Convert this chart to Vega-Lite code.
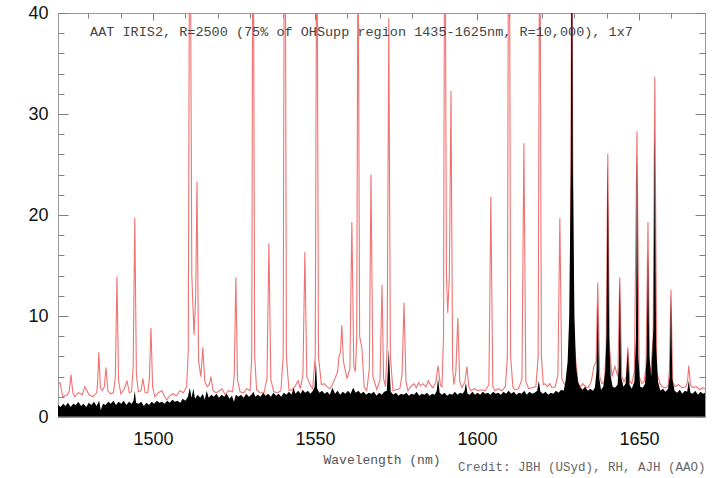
{
"$schema": "https://vega.github.io/schema/vega-lite/v6.json",
"width": 647, "height": 404,
"autosize": "none",
"padding": {"left": 58, "top": 13, "right": 11, "bottom": 61},
"background": "white",
"config": {"view": {"stroke": "#999999", "strokeWidth": 1}, "axis": {"grid": false, "domain": false, "tickColor": "#808080", "tickWidth": 1, "labelFont": "Liberation Sans", "labelFontSize": 18, "labelColor": "#111111"}},
"title": {"text": "Credit: JBH (USyd), RH, AJH (AAO)", "orient": "bottom", "anchor": "end", "font": "Liberation Mono", "fontSize": 12.5, "fontWeight": "normal", "color": "#666666", "offset": -5},
"datasets": {
"red": [
{"w":1470.7,"f":3.3},{"w":1471.3,"f":3.4},{"w":1472.2,"f":2.0},{"w":1473.6,"f":2.2},{"w":1474.2,"f":2.6},{"w":1474.7,"f":4.2},{"w":1475.3,"f":2.4},{"w":1475.9,"f":2.0},{"w":1477.0,"f":2.4},{"w":1478.2,"f":2.2},{"w":1479.0,"f":3.0},{"w":1480.3,"f":2.2},{"w":1481.5,"f":2.0},{"w":1482.6,"f":2.4},{"w":1482.9,"f":3.2},{"w":1483.3,"f":6.4},{"w":1483.8,"f":2.9},{"w":1484.4,"f":2.6},{"w":1485.0,"f":3.0},{"w":1485.5,"f":4.9},{"w":1486.1,"f":2.6},{"w":1486.9,"f":2.3},{"w":1487.8,"f":2.4},{"w":1488.4,"f":4.0},{"w":1488.9,"f":13.9},{"w":1489.4,"f":3.6},{"w":1490.1,"f":2.3},{"w":1491.2,"f":2.8},{"w":1492.0,"f":3.6},{"w":1492.7,"f":2.4},{"w":1493.4,"f":2.5},{"w":1493.9,"f":5.0},{"w":1494.4,"f":19.7},{"w":1494.9,"f":4.2},{"w":1495.5,"f":2.5},{"w":1496.3,"f":2.6},{"w":1496.9,"f":3.8},{"w":1497.6,"f":2.4},{"w":1498.4,"f":2.4},{"w":1498.9,"f":3.8},{"w":1499.4,"f":8.8},{"w":1499.9,"f":3.0},{"w":1500.6,"f":2.0},{"w":1501.6,"f":2.4},{"w":1502.8,"f":2.6},{"w":1503.6,"f":2.0},{"w":1504.3,"f":1.7},{"w":1505.2,"f":2.1},{"w":1506.2,"f":2.3},{"w":1507.2,"f":2.1},{"w":1508.3,"f":2.6},{"w":1509.4,"f":2.4},{"w":1510.4,"f":3.0},{"w":1510.9,"f":6.5},{"w":1511.4,"f":60},{"w":1512.0,"f":14},{"w":1512.7,"f":8.1},{"w":1513.2,"f":12},{"w":1513.6,"f":23.3},{"w":1514.1,"f":5.5},{"w":1514.8,"f":4.0},{"w":1515.4,"f":6.9},{"w":1516.0,"f":3.5},{"w":1516.8,"f":3.0},{"w":1517.4,"f":3.2},{"w":1517.9,"f":4.0},{"w":1518.6,"f":2.6},{"w":1519.5,"f":2.4},{"w":1520.5,"f":2.6},{"w":1521.3,"f":2.8},{"w":1522.3,"f":2.2},{"w":1523.3,"f":2.6},{"w":1524.6,"f":2.5},{"w":1525.1,"f":4.2},{"w":1525.6,"f":13.8},{"w":1526.1,"f":3.7},{"w":1526.9,"f":2.5},{"w":1528.0,"f":2.4},{"w":1529.0,"f":2.8},{"w":1530.0,"f":2.6},{"w":1530.5,"f":6.0},{"w":1530.9,"f":60},{"w":1531.4,"f":6.0},{"w":1532.0,"f":2.7},{"w":1533.0,"f":2.4},{"w":1534.3,"f":2.4},{"w":1535.2,"f":3.8},{"w":1535.8,"f":17.2},{"w":1536.4,"f":3.7},{"w":1537.3,"f":2.5},{"w":1538.5,"f":2.4},{"w":1539.5,"f":2.6},{"w":1540.2,"f":6.0},{"w":1540.7,"f":70},{"w":1541.2,"f":6.0},{"w":1542.0,"f":2.6},{"w":1542.9,"f":2.7},{"w":1543.8,"f":3.0},{"w":1544.8,"f":3.6},{"w":1545.5,"f":2.8},{"w":1546.3,"f":4.2},{"w":1546.9,"f":16.3},{"w":1547.5,"f":4.0},{"w":1548.5,"f":3.2},{"w":1549.3,"f":2.8},{"w":1550.1,"f":6.0},{"w":1550.6,"f":55},{"w":1551.1,"f":6.0},{"w":1552.0,"f":3.2},{"w":1552.8,"f":3.3},{"w":1553.7,"f":3.0},{"w":1554.6,"f":2.8},{"w":1555.4,"f":3.2},{"w":1556.2,"f":3.8},{"w":1557.0,"f":4.5},{"w":1557.4,"f":5.9},{"w":1557.9,"f":6.5},{"w":1558.3,"f":9.1},{"w":1558.8,"f":5.5},{"w":1559.9,"f":3.8},{"w":1560.8,"f":4.8},{"w":1561.4,"f":19.3},{"w":1562.0,"f":5.0},{"w":1562.5,"f":4.5},{"w":1562.9,"f":8},{"w":1563.3,"f":50},{"w":1563.8,"f":8},{"w":1564.5,"f":6.8},{"w":1565.2,"f":3.0},{"w":1566.0,"f":2.6},{"w":1566.8,"f":4.8},{"w":1567.3,"f":24.0},{"w":1567.9,"f":4.0},{"w":1569.1,"f":2.7},{"w":1570.1,"f":3.7},{"w":1570.7,"f":13.1},{"w":1571.2,"f":3.8},{"w":1571.8,"f":3.0},{"w":1572.3,"f":7.0},{"w":1572.8,"f":39.5},{"w":1573.3,"f":6.0},{"w":1574.1,"f":2.6},{"w":1575.0,"f":2.7},{"w":1576.2,"f":2.8},{"w":1576.9,"f":4.2},{"w":1577.5,"f":11.3},{"w":1578.1,"f":3.5},{"w":1578.7,"f":2.6},{"w":1579.6,"f":3.0},{"w":1580.6,"f":3.3},{"w":1581.3,"f":2.9},{"w":1582.0,"f":3.4},{"w":1582.6,"f":3.1},{"w":1583.3,"f":3.3},{"w":1584.3,"f":3.0},{"w":1585.0,"f":3.6},{"w":1585.6,"f":3.2},{"w":1586.4,"f":2.9},{"w":1587.3,"f":3.4},{"w":1588.0,"f":5.1},{"w":1588.7,"f":3.2},{"w":1589.2,"f":3.0},{"w":1589.7,"f":8.0},{"w":1590.1,"f":60},{"w":1590.6,"f":14},{"w":1591.0,"f":10.3},{"w":1591.5,"f":14},{"w":1592.0,"f":32.3},{"w":1592.5,"f":5.0},{"w":1592.9,"f":3.2},{"w":1593.5,"f":4.5},{"w":1594.1,"f":9.8},{"w":1594.7,"f":3.5},{"w":1595.4,"f":2.9},{"w":1596.3,"f":3.5},{"w":1596.9,"f":5.0},{"w":1597.5,"f":3.0},{"w":1598.1,"f":2.6},{"w":1599.2,"f":2.8},{"w":1600.3,"f":2.6},{"w":1601.4,"f":2.7},{"w":1602.5,"f":2.6},{"w":1603.7,"f":3.2},{"w":1604.3,"f":21.8},{"w":1604.9,"f":3.0},{"w":1605.6,"f":2.6},{"w":1606.6,"f":2.8},{"w":1607.7,"f":2.6},{"w":1608.8,"f":3.0},{"w":1609.4,"f":6.0},{"w":1609.9,"f":70},{"w":1610.4,"f":6.0},{"w":1611.1,"f":3.0},{"w":1611.7,"f":2.7},{"w":1612.8,"f":2.8},{"w":1613.9,"f":3.7},{"w":1614.5,"f":27.1},{"w":1615.1,"f":3.5},{"w":1616.0,"f":2.8},{"w":1617.0,"f":2.9},{"w":1618.2,"f":3.0},{"w":1618.9,"f":6.0},{"w":1619.4,"f":55},{"w":1619.9,"f":6.0},{"w":1620.5,"f":3.2},{"w":1621.0,"f":3.3},{"w":1621.8,"f":3.0},{"w":1622.5,"f":3.3},{"w":1623.1,"f":2.9},{"w":1624.2,"f":3.0},{"w":1625.0,"f":4.2},{"w":1625.6,"f":19.7},{"w":1626.2,"f":3.8},{"w":1626.9,"f":3.3},{"w":1628.1,"f":3.0},{"w":1628.8,"f":8},{"w":1629.3,"f":50},{"w":1629.8,"f":8},{"w":1631.2,"f":3.3},{"w":1632.0,"f":3.0},{"w":1632.7,"f":3.3},{"w":1633.5,"f":3.0},{"w":1634.3,"f":2.9},{"w":1635.3,"f":3.5},{"w":1636.1,"f":5.0},{"w":1636.8,"f":5.5},{"w":1637.3,"f":13.3},{"w":1637.9,"f":4.0},{"w":1638.6,"f":3.3},{"w":1639.4,"f":3.5},{"w":1639.9,"f":7},{"w":1640.4,"f":26.1},{"w":1640.9,"f":7},{"w":1641.7,"f":4.0},{"w":1642.6,"f":5.0},{"w":1643.5,"f":4.0},{"w":1644.1,"f":13.8},{"w":1644.7,"f":4.0},{"w":1645.4,"f":3.5},{"w":1646.1,"f":4.0},{"w":1646.6,"f":6.9},{"w":1647.2,"f":3.5},{"w":1647.8,"f":3.3},{"w":1648.6,"f":4.5},{"w":1649.4,"f":28.3},{"w":1650.1,"f":4.0},{"w":1650.9,"f":3.3},{"w":1651.6,"f":3.5},{"w":1652.2,"f":5.0},{"w":1652.8,"f":19.3},{"w":1653.3,"f":5.0},{"w":1653.7,"f":4.5},{"w":1654.4,"f":8.0},{"w":1654.9,"f":33.7},{"w":1655.5,"f":4.5},{"w":1656.5,"f":3.3},{"w":1657.2,"f":3.0},{"w":1658.0,"f":2.9},{"w":1659.0,"f":3.0},{"w":1659.4,"f":4.5},{"w":1659.9,"f":12.6},{"w":1660.4,"f":3.5},{"w":1661.1,"f":3.0},{"w":1662.2,"f":3.2},{"w":1663.3,"f":2.9},{"w":1664.5,"f":3.0},{"w":1665.0,"f":3.5},{"w":1665.4,"f":5.1},{"w":1665.9,"f":3.2},{"w":1666.7,"f":2.9},{"w":1667.7,"f":3.0},{"w":1668.8,"f":2.7},{"w":1669.6,"f":2.9},{"w":1670.4,"f":2.8}
],
"black": [
{"w":1470.7,"f":1.2},{"w":1471.5,"f":1.0},{"w":1472.3,"f":1.3},{"w":1473.0,"f":1.1},{"w":1473.8,"f":1.4},{"w":1474.6,"f":1.0},{"w":1475.4,"f":1.3},{"w":1476.2,"f":1.2},{"w":1477.0,"f":1.5},{"w":1477.8,"f":1.1},{"w":1478.6,"f":1.3},{"w":1479.4,"f":1.0},{"w":1480.2,"f":1.4},{"w":1481.0,"f":1.2},{"w":1481.8,"f":1.5},{"w":1482.6,"f":1.1},{"w":1483.4,"f":1.6},{"w":1483.9,"f":0.7},{"w":1484.6,"f":1.3},{"w":1485.4,"f":1.2},{"w":1486.2,"f":1.5},{"w":1487.0,"f":1.3},{"w":1487.8,"f":1.6},{"w":1488.6,"f":1.2},{"w":1489.4,"f":1.5},{"w":1490.2,"f":1.3},{"w":1491.0,"f":1.6},{"w":1491.8,"f":1.2},{"w":1492.6,"f":1.5},{"w":1493.4,"f":1.3},{"w":1494.0,"f":1.6},{"w":1494.4,"f":2.6},{"w":1494.8,"f":1.4},{"w":1495.6,"f":1.3},{"w":1496.4,"f":1.5},{"w":1497.2,"f":1.1},{"w":1498.0,"f":1.4},{"w":1498.8,"f":1.2},{"w":1499.6,"f":1.5},{"w":1500.4,"f":1.3},{"w":1501.2,"f":1.6},{"w":1502.0,"f":1.4},{"w":1502.8,"f":1.5},{"w":1503.6,"f":1.3},{"w":1504.4,"f":1.6},{"w":1505.2,"f":1.4},{"w":1506.0,"f":1.7},{"w":1506.8,"f":1.5},{"w":1507.6,"f":1.6},{"w":1508.4,"f":1.4},{"w":1509.2,"f":1.8},{"w":1510.0,"f":1.6},{"w":1510.8,"f":2.0},{"w":1511.4,"f":2.9},{"w":1511.9,"f":1.9},{"w":1512.5,"f":2.8},{"w":1513.0,"f":1.8},{"w":1513.8,"f":2.2},{"w":1514.6,"f":1.9},{"w":1515.4,"f":2.3},{"w":1516.0,"f":1.7},{"w":1516.6,"f":2.6},{"w":1517.2,"f":1.9},{"w":1518.0,"f":2.2},{"w":1518.8,"f":2.0},{"w":1519.6,"f":2.3},{"w":1520.4,"f":1.9},{"w":1521.2,"f":2.2},{"w":1522.0,"f":2.0},{"w":1522.8,"f":2.3},{"w":1523.6,"f":1.8},{"w":1524.4,"f":2.1},{"w":1525.0,"f":1.5},{"w":1525.6,"f":2.2},{"w":1526.4,"f":2.0},{"w":1527.2,"f":2.2},{"w":1528.0,"f":1.9},{"w":1528.8,"f":2.3},{"w":1529.6,"f":2.0},{"w":1530.4,"f":2.2},{"w":1531.0,"f":2.5},{"w":1531.6,"f":2.0},{"w":1532.4,"f":2.2},{"w":1533.2,"f":2.0},{"w":1534.0,"f":2.4},{"w":1534.8,"f":2.1},{"w":1535.6,"f":2.3},{"w":1536.4,"f":2.0},{"w":1537.2,"f":2.4},{"w":1538.0,"f":2.1},{"w":1538.8,"f":2.3},{"w":1539.6,"f":2.0},{"w":1540.4,"f":2.4},{"w":1541.2,"f":2.2},{"w":1542.0,"f":2.5},{"w":1542.8,"f":2.2},{"w":1543.4,"f":2.9},{"w":1544.0,"f":2.3},{"w":1544.8,"f":2.6},{"w":1545.6,"f":2.3},{"w":1546.2,"f":2.7},{"w":1547.0,"f":2.4},{"w":1547.8,"f":2.6},{"w":1548.6,"f":2.3},{"w":1549.4,"f":2.6},{"w":1549.9,"f":3.0},{"w":1550.3,"f":5.6},{"w":1550.7,"f":2.8},{"w":1551.4,"f":2.4},{"w":1552.2,"f":2.6},{"w":1553.0,"f":2.3},{"w":1553.8,"f":2.5},{"w":1554.6,"f":2.2},{"w":1555.4,"f":2.9},{"w":1556.2,"f":2.3},{"w":1557.0,"f":2.6},{"w":1557.8,"f":2.2},{"w":1558.6,"f":2.5},{"w":1559.4,"f":2.3},{"w":1560.2,"f":2.6},{"w":1561.0,"f":2.3},{"w":1561.8,"f":2.9},{"w":1562.6,"f":2.4},{"w":1563.4,"f":2.6},{"w":1564.2,"f":2.3},{"w":1565.0,"f":2.5},{"w":1565.8,"f":2.2},{"w":1566.6,"f":2.4},{"w":1567.4,"f":2.3},{"w":1568.2,"f":2.5},{"w":1569.0,"f":2.1},{"w":1569.8,"f":2.4},{"w":1570.6,"f":2.2},{"w":1571.4,"f":2.5},{"w":1572.2,"f":2.6},{"w":1572.8,"f":6.7},{"w":1573.4,"f":2.5},{"w":1574.2,"f":2.2},{"w":1575.0,"f":2.4},{"w":1575.8,"f":2.1},{"w":1576.6,"f":2.3},{"w":1577.4,"f":2.2},{"w":1578.2,"f":2.4},{"w":1579.0,"f":2.1},{"w":1579.8,"f":2.3},{"w":1580.6,"f":2.2},{"w":1581.4,"f":2.5},{"w":1582.2,"f":2.1},{"w":1583.0,"f":2.3},{"w":1583.8,"f":2.2},{"w":1584.6,"f":2.4},{"w":1585.4,"f":2.1},{"w":1586.2,"f":2.3},{"w":1587.0,"f":2.2},{"w":1587.6,"f":2.6},{"w":1588.0,"f":3.8},{"w":1588.5,"f":2.4},{"w":1589.2,"f":2.2},{"w":1590.0,"f":2.4},{"w":1590.8,"f":2.1},{"w":1591.6,"f":2.3},{"w":1592.4,"f":2.2},{"w":1593.2,"f":2.5},{"w":1594.0,"f":2.2},{"w":1594.8,"f":2.4},{"w":1595.6,"f":2.3},{"w":1596.2,"f":2.6},{"w":1596.6,"f":3.4},{"w":1597.1,"f":2.3},{"w":1597.8,"f":2.2},{"w":1598.6,"f":2.5},{"w":1599.4,"f":2.2},{"w":1600.2,"f":2.4},{"w":1601.0,"f":2.2},{"w":1601.8,"f":2.5},{"w":1602.6,"f":2.3},{"w":1603.4,"f":2.4},{"w":1604.2,"f":2.2},{"w":1605.0,"f":2.5},{"w":1605.8,"f":2.3},{"w":1606.6,"f":2.4},{"w":1607.4,"f":2.2},{"w":1608.2,"f":2.5},{"w":1609.0,"f":2.3},{"w":1609.8,"f":2.6},{"w":1610.6,"f":2.3},{"w":1611.4,"f":2.5},{"w":1612.2,"f":2.2},{"w":1613.0,"f":2.4},{"w":1613.8,"f":2.3},{"w":1614.6,"f":2.6},{"w":1615.4,"f":2.2},{"w":1616.2,"f":2.5},{"w":1617.0,"f":2.3},{"w":1617.8,"f":2.4},{"w":1618.6,"f":2.6},{"w":1619.1,"f":3.6},{"w":1619.6,"f":2.5},{"w":1620.4,"f":2.3},{"w":1621.2,"f":2.5},{"w":1622.0,"f":2.2},{"w":1622.8,"f":2.4},{"w":1623.6,"f":2.3},{"w":1624.4,"f":2.6},{"w":1625.2,"f":2.4},{"w":1626.0,"f":2.7},{"w":1626.8,"f":2.6},{"w":1627.4,"f":3.7},{"w":1628.0,"f":5.5},{"w":1628.5,"f":10},{"w":1629.0,"f":25},{"w":1629.3,"f":60},{"w":1629.6,"f":25},{"w":1630.1,"f":10},{"w":1630.6,"f":5.0},{"w":1631.2,"f":3.5},{"w":1631.8,"f":3.0},{"w":1632.6,"f":2.7},{"w":1633.4,"f":3.0},{"w":1634.2,"f":2.6},{"w":1635.0,"f":2.8},{"w":1635.8,"f":2.6},{"w":1636.4,"f":2.9},{"w":1636.9,"f":4.5},{"w":1637.3,"f":11.3},{"w":1637.7,"f":4.0},{"w":1638.3,"f":2.7},{"w":1639.0,"f":3.0},{"w":1639.6,"f":4.5},{"w":1640.0,"f":8.0},{"w":1640.4,"f":25.2},{"w":1640.8,"f":8.0},{"w":1641.3,"f":4.0},{"w":1641.9,"f":3.0},{"w":1642.6,"f":2.9},{"w":1643.4,"f":3.2},{"w":1643.8,"f":5},{"w":1644.1,"f":13.7},{"w":1644.5,"f":4.0},{"w":1645.2,"f":3.0},{"w":1645.9,"f":3.3},{"w":1646.6,"f":6.5},{"w":1647.1,"f":3.2},{"w":1647.8,"f":2.8},{"w":1648.6,"f":3.5},{"w":1649.1,"f":8},{"w":1649.4,"f":26.1},{"w":1649.8,"f":6},{"w":1650.4,"f":3.0},{"w":1651.2,"f":2.9},{"w":1651.9,"f":3.3},{"w":1652.4,"f":6},{"w":1652.8,"f":16.3},{"w":1653.2,"f":6},{"w":1653.8,"f":4.0},{"w":1654.5,"f":9},{"w":1654.9,"f":28.6},{"w":1655.3,"f":7},{"w":1655.9,"f":3.5},{"w":1656.6,"f":2.6},{"w":1657.4,"f":2.8},{"w":1658.2,"f":2.5},{"w":1659.0,"f":2.8},{"w":1659.5,"f":4.0},{"w":1659.9,"f":12.1},{"w":1660.3,"f":3.8},{"w":1661.0,"f":2.6},{"w":1661.8,"f":2.4},{"w":1662.6,"f":2.7},{"w":1663.4,"f":2.3},{"w":1664.2,"f":2.6},{"w":1664.9,"f":2.5},{"w":1665.4,"f":3.6},{"w":1665.9,"f":2.4},{"w":1666.6,"f":2.3},{"w":1667.4,"f":2.6},{"w":1668.2,"f":2.2},{"w":1669.0,"f":2.5},{"w":1669.8,"f":2.3},{"w":1670.4,"f":2.4}
]
},
"layer": [
{
"data": {"name": "red"},
"mark": {"type": "line", "color": "#f07272", "strokeWidth": 1.1, "clip": true},
"encoding": {
"x": {"field": "w", "type": "quantitative", "scale": {"domain": [1470.7, 1670.4], "nice": false, "zero": false},
 "axis": {"orient": "bottom", "values": [1500, 1550, 1600, 1650], "format": "d", "offset": -10, "tickSize": 10, "labelPadding": 13, "title": "Wavelength (nm)", "titleFont": "Liberation Mono", "titleFontSize": 13, "titleFontWeight": "normal", "titleColor": "#555555", "titlePadding": 5}},
"y": {"field": "f", "type": "quantitative", "scale": {"domain": [0, 40], "nice": false, "zero": false},
 "axis": {"orient": "left", "values": [0, 10, 20, 30, 40], "offset": -10, "tickSize": 10, "labelPadding": 10, "title": null}}
}
},
{
"data": {"name": "black"},
"mark": {"type": "area", "color": "#000000", "clip": true},
"encoding": {
"x": {"field": "w", "type": "quantitative", "axis": {"orient": "bottom", "values": [1480, 1490, 1510, 1520, 1530, 1540, 1560, 1570, 1580, 1590, 1610, 1620, 1630, 1640, 1660], "offset": -5, "tickSize": 5, "labels": false, "title": null}},
"y": {"field": "f", "type": "quantitative", "axis": {"orient": "left", "values": [2,4,6,8,12,14,16,18,22,24,26,28,32,34,36,38], "offset": -6, "tickSize": 6, "labels": false, "title": null}}
}
},
{
"data": {"values": [{"label": "AAT IRIS2, R=2500 (75% of OHSupp region 1435-1625nm, R=10,000), 1x7"}]},
"mark": {"type": "text", "align": "left", "baseline": "middle", "font": "Liberation Mono", "fontSize": 13.5, "color": "#444444"},
"encoding": {
"x": {"datum": 1480.6, "type": "quantitative", "axis": {"orient": "top", "values": [1500, 1550, 1600, 1650], "offset": -7, "tickSize": 7, "labels": false, "title": null}},
"y": {"datum": 38.1, "type": "quantitative", "axis": {"orient": "right", "values": [0, 10, 20, 30, 40], "offset": -10, "tickSize": 10, "labels": false, "title": null}},
"text": {"field": "label"}
}
},
{
"data": {"values": [{}]},
"mark": {"type": "rule", "color": "#999999", "strokeWidth": 1},
"encoding": {
"x": {"datum": 1470.7, "type": "quantitative", "axis": {"orient": "top", "values": [1480, 1490, 1510, 1520, 1530, 1540, 1560, 1570, 1580, 1590, 1610, 1620, 1630, 1640, 1660], "offset": -5, "tickSize": 5, "labels": false, "title": null}},
"x2": {"datum": 1670.4},
"y": {"datum": 0, "type": "quantitative", "axis": {"orient": "right", "values": [2,4,6,8,12,14,16,18,22,24,26,28,32,34,36,38], "offset": -6, "tickSize": 6, "labels": false, "title": null}}
}
}
],
"resolve": {"axis": {"x": "independent", "y": "independent"}}
}
